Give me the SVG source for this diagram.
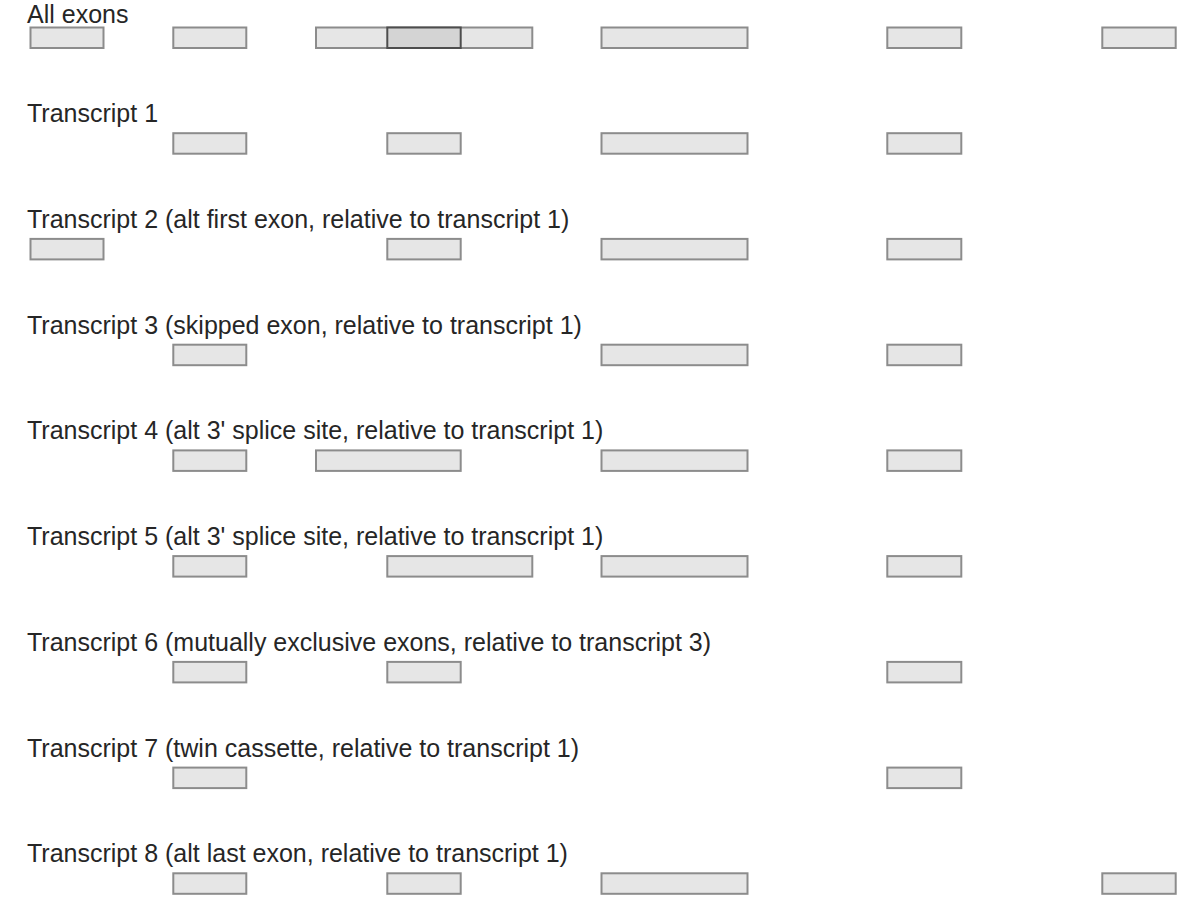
<svg xmlns="http://www.w3.org/2000/svg" width="1200" height="900" viewBox="0 0 1200 900">
<style>
text{font-family:"Liberation Sans",Arial,sans-serif;font-size:25px;fill:#262626}
.ex{fill:#e6e6e6;stroke:#8c8c8c;stroke-width:2}
.hl{fill:#d4d4d4;stroke:#4d4d4d;stroke-width:2}
</style>
<rect width="1200" height="900" fill="#fff"/>
<g id="row0" transform="translate(0,27.5)">
<text x="27" y="-5">All exons</text>
<rect class="ex" x="30.5" y="0" width="73" height="20.5"/>
<rect class="ex" x="173.3" y="0" width="73" height="20.5"/>
<rect class="ex" x="316" y="0" width="216.3" height="20.5"/>
<rect class="hl" x="387.3" y="0" width="73.4" height="20.5"/>
<rect class="ex" x="601.5" y="0" width="146" height="20.5"/>
<rect class="ex" x="887.3" y="0" width="74" height="20.5"/>
<rect class="ex" x="1102.3" y="0" width="73.4" height="20.5"/>
</g>
<g id="row1" transform="translate(0,133.2)">
<text x="27" y="-11">Transcript 1</text>
<rect class="ex" x="173.3" y="0" width="73" height="20.5"/>
<rect class="ex" x="387.3" y="0" width="73.4" height="20.5"/>
<rect class="ex" x="601.5" y="0" width="146" height="20.5"/>
<rect class="ex" x="887.3" y="0" width="74" height="20.5"/>
</g>
<g id="row2" transform="translate(0,238.9)">
<text x="27" y="-11">Transcript 2 (alt first exon, relative to transcript 1)</text>
<rect class="ex" x="30.5" y="0" width="73" height="20.5"/>
<rect class="ex" x="387.3" y="0" width="73.4" height="20.5"/>
<rect class="ex" x="601.5" y="0" width="146" height="20.5"/>
<rect class="ex" x="887.3" y="0" width="74" height="20.5"/>
</g>
<g id="row3" transform="translate(0,344.7)">
<text x="27" y="-11">Transcript 3 (skipped exon, relative to transcript 1)</text>
<rect class="ex" x="173.3" y="0" width="73" height="20.5"/>
<rect class="ex" x="601.5" y="0" width="146" height="20.5"/>
<rect class="ex" x="887.3" y="0" width="74" height="20.5"/>
</g>
<g id="row4" transform="translate(0,450.4)">
<text x="27" y="-11">Transcript 4 (alt 3' splice site, relative to transcript 1)</text>
<rect class="ex" x="173.3" y="0" width="73" height="20.5"/>
<rect class="ex" x="316" y="0" width="144.7" height="20.5"/>
<rect class="ex" x="601.5" y="0" width="146" height="20.5"/>
<rect class="ex" x="887.3" y="0" width="74" height="20.5"/>
</g>
<g id="row5" transform="translate(0,556.1)">
<text x="27" y="-11">Transcript 5 (alt 3' splice site, relative to transcript 1)</text>
<rect class="ex" x="173.3" y="0" width="73" height="20.5"/>
<rect class="ex" x="387.3" y="0" width="145" height="20.5"/>
<rect class="ex" x="601.5" y="0" width="146" height="20.5"/>
<rect class="ex" x="887.3" y="0" width="74" height="20.5"/>
</g>
<g id="row6" transform="translate(0,661.9)">
<text x="27" y="-11">Transcript 6 (mutually exclusive exons, relative to transcript 3)</text>
<rect class="ex" x="173.3" y="0" width="73" height="20.5"/>
<rect class="ex" x="387.3" y="0" width="73.4" height="20.5"/>
<rect class="ex" x="887.3" y="0" width="74" height="20.5"/>
</g>
<g id="row7" transform="translate(0,767.6)">
<text x="27" y="-11">Transcript 7 (twin cassette, relative to transcript 1)</text>
<rect class="ex" x="173.3" y="0" width="73" height="20.5"/>
<rect class="ex" x="887.3" y="0" width="74" height="20.5"/>
</g>
<g id="row8" transform="translate(0,873.3)">
<text x="27" y="-11">Transcript 8 (alt last exon, relative to transcript 1)</text>
<rect class="ex" x="173.3" y="0" width="73" height="20.5"/>
<rect class="ex" x="387.3" y="0" width="73.4" height="20.5"/>
<rect class="ex" x="601.5" y="0" width="146" height="20.5"/>
<rect class="ex" x="1102.3" y="0" width="73.4" height="20.5"/>
</g>
<g id="connectors"/>
</svg>
